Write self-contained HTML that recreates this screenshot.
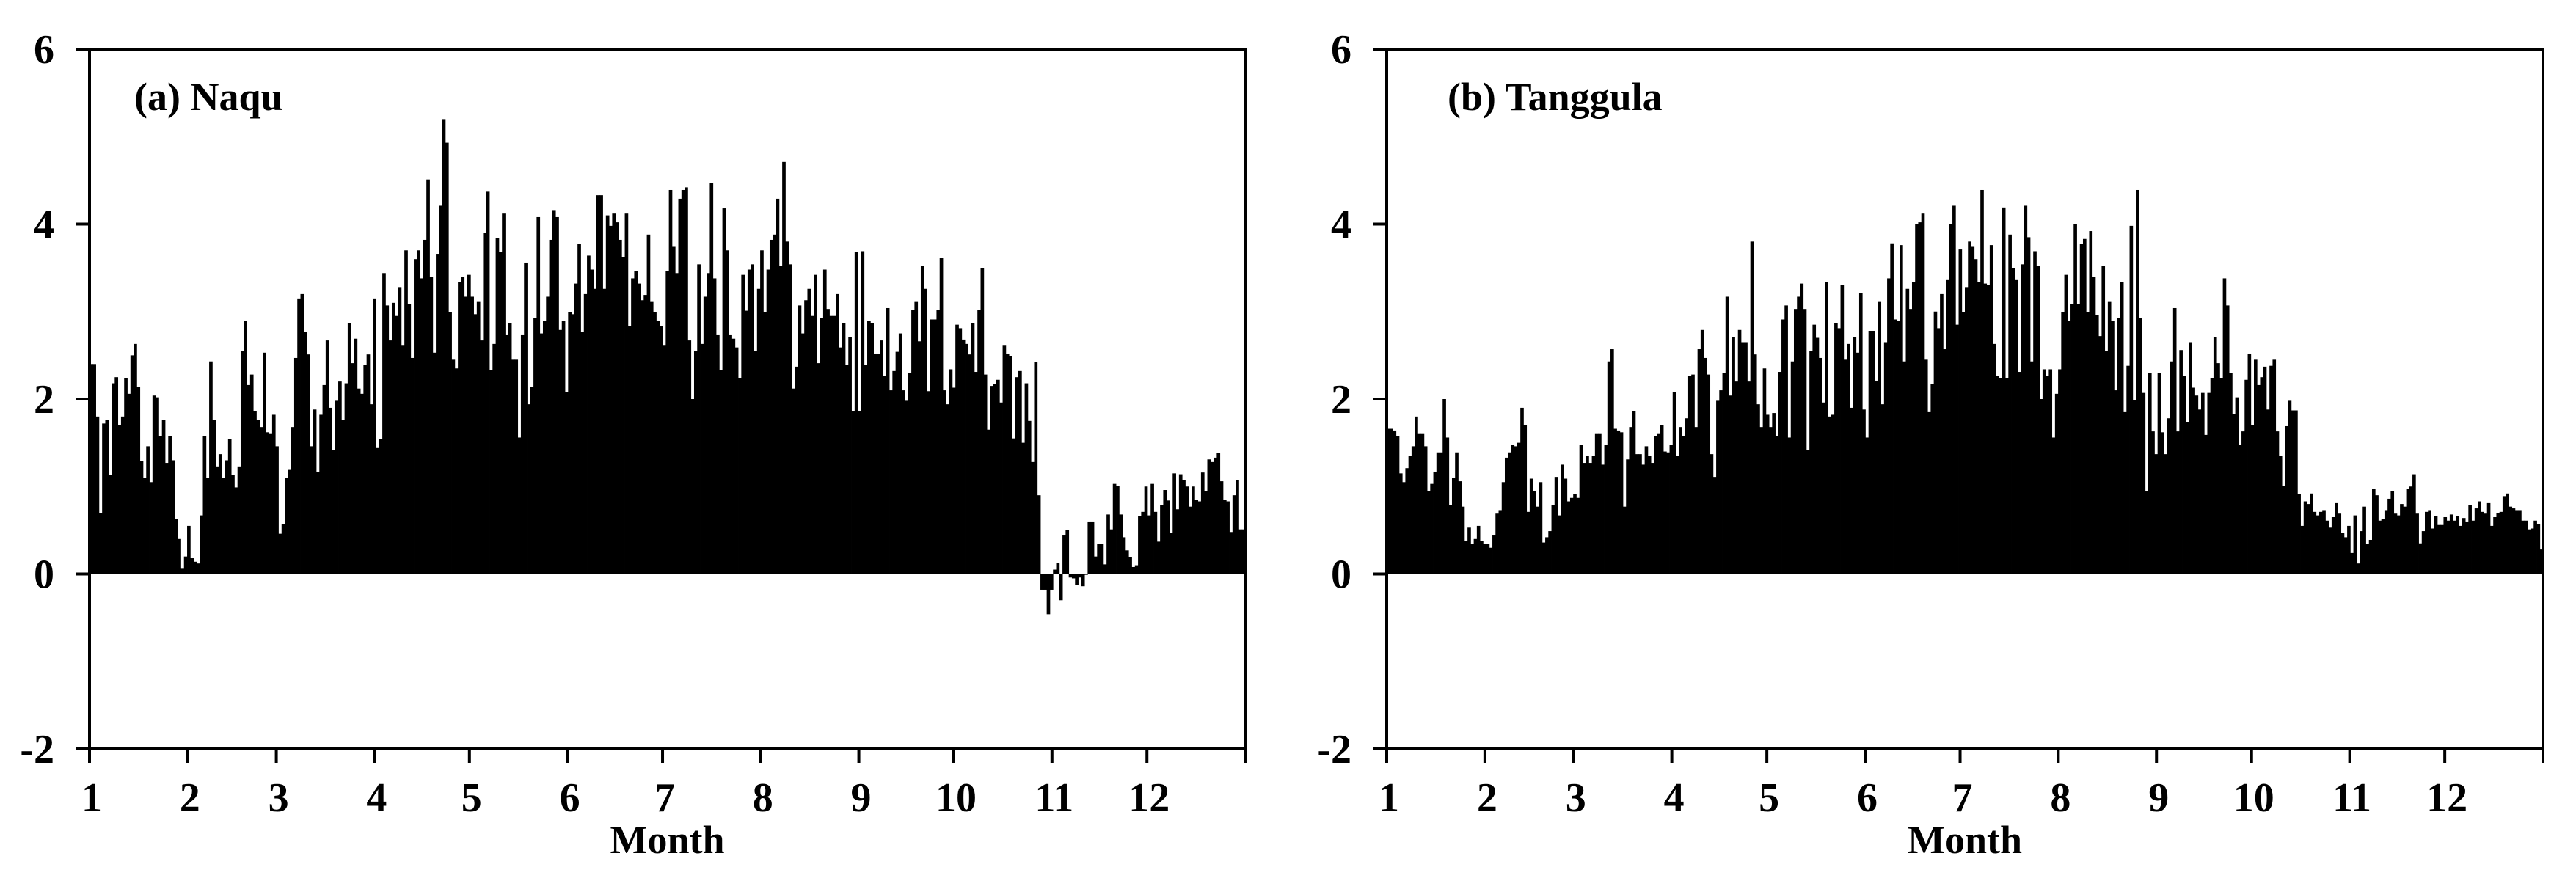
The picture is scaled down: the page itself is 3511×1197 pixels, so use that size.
<!DOCTYPE html>
<html><head><meta charset="utf-8"><style>
html,body{margin:0;padding:0;background:#fff;}
svg{display:block;font-family:"Liberation Serif",serif;font-weight:bold;}
</style></head><body>
<svg id="chart" width="3511" height="1197" viewBox="0 0 3511 1197" xmlns="http://www.w3.org/2000/svg"></svg>
<script>
const monthLabels = ["1","2","3","4","5","6","7","8","9","10","11","12"];
const monthDays = [31,28,31,30,31,30,31,31,30,31,30,31];
const yTicks = [-2,0,2,4,6];
const naquValues = [
2.4,2.4,1.8,0.7,1.72,1.76,1.13,2.18,2.25,1.7,1.8,2.24,2.06,2.5,2.63,2.14,1.29,1.1,1.46,1.05,2.04,2.02,1.58,1.76,1.27,1.58,1.3,0.63,0.4,0.06,0.2,0.55,0.18,0.14,0.12,0.67,1.58,1.1,2.43,1.76,1.23,1.37,1.1,1.3,1.54,1.13,0.99,1.23,2.55,2.89,2.16,2.28,1.86,1.76,1.68,2.53,1.62,1.6,1.82,1.46,0.46,0.57,1.1,1.19,1.68,2.47,3.15,3.2,2.77,2.51,1.46,1.88,1.17,1.82,2.16,2.67,1.9,1.42,1.98,2.2,1.76,2.18,2.87,2.41,2.69,2.12,2.06,2.39,2.51,1.94,3.15,1.44,1.54,3.44,3.07,2.67,3.1,2.95,3.28,2.61,3.7,3.09,2.47,3.6,3.7,3.38,3.82,4.51,3.4,2.53,3.66,4.21,5.2,4.93,2.99,2.45,2.35,3.34,3.4,3.17,
3.42,3.17,2.97,3.11,2.67,3.9,4.37,2.33,2.63,3.84,3.68,4.12,2.73,2.87,2.45,2.45,1.56,2.73,3.56,1.94,2.14,2.93,4.08,2.75,2.89,3.17,3.82,4.16,4.08,2.79,2.89,2.08,2.99,2.97,3.32,3.77,2.77,3.2,3.64,3.48,3.26,4.33,4.33,3.26,4.1,3.98,4.12,4.02,3.82,3.62,4.12,2.83,3.38,3.46,3.32,3.13,3.19,3.88,3.11,2.99,2.89,2.83,2.61,3.46,4.39,3.74,3.44,4.29,4.39,4.42,2.67,2.0,2.55,3.54,2.63,3.17,3.44,4.47,3.38,2.73,2.33,4.18,3.7,2.73,2.69,2.59,2.24,3.42,3.01,3.48,3.54,2.55,3.26,3.7,2.99,3.48,3.82,3.88,4.29,3.52,4.71,3.8,3.54,2.12,2.37,3.07,2.75,3.13,3.26,2.95,3.42,2.41,2.93,3.48,3.03,2.95,2.95,3.2,2.59,2.87,2.39,2.71,1.86,3.68,
1.86,3.69,2.39,2.89,2.87,2.52,2.52,2.67,2.26,3.04,2.1,2.32,2.54,2.75,2.1,1.98,2.3,3.02,3.11,2.66,3.52,3.26,2.09,2.91,2.91,3.02,3.61,2.1,1.94,2.34,2.13,2.85,2.81,2.68,2.63,2.51,2.87,2.31,3.02,3.5,2.28,1.65,2.15,2.17,2.22,1.96,2.61,2.52,2.49,1.55,2.25,2.32,1.5,2.18,1.75,1.28,2.42,0.9,-0.18,-0.18,-0.46,-0.18,0.05,0.13,-0.3,0.44,0.5,-0.04,-0.05,-0.13,-0.04,-0.14,-0.01,0.6,0.6,0.2,0.34,0.34,0.11,0.68,0.51,1.03,1.01,0.68,0.42,0.27,0.19,0.08,0.1,0.66,0.71,1.0,0.67,1.03,0.71,0.37,0.79,0.96,0.84,0.47,1.15,0.74,1.14,1.07,1.0,0.77,1.0,0.85,0.83,1.16,0.95,1.31,1.28,1.33,1.38,1.06,0.85,0.83,0.48,0.9,1.07,0.51,0.51
];
const tanggulaValues = [
1.66,1.66,1.64,1.58,1.15,1.05,1.21,1.35,1.46,1.8,1.6,1.6,1.46,0.95,1.03,1.17,1.39,1.39,2.0,1.56,0.79,1.1,1.39,1.06,0.77,0.38,0.53,0.34,0.4,0.55,0.38,0.34,0.34,0.3,0.44,0.69,0.73,1.05,1.33,1.39,1.48,1.46,1.5,1.9,1.7,0.71,1.09,0.95,0.77,1.05,0.36,0.42,0.49,0.79,1.11,0.67,1.25,1.09,0.83,0.87,0.91,0.87,1.48,1.27,1.35,1.27,1.35,1.6,1.6,1.25,1.48,2.43,2.57,1.66,1.64,1.62,0.77,1.31,1.68,1.86,1.37,1.37,1.25,1.46,1.35,1.27,1.58,1.6,1.7,1.4,1.39,1.48,2.08,1.35,1.68,1.58,1.78,2.26,2.28,1.68,2.57,2.79,2.47,2.28,1.37,1.11,1.98,2.1,2.3,3.17,2.04,2.71,2.2,2.79,2.65,2.65,2.2,3.8,2.51,1.94,1.68,2.35,1.82,1.68,
1.84,1.58,2.31,2.91,3.07,1.56,2.43,3.03,3.17,3.32,3.03,1.42,2.55,2.85,2.7,2.47,1.96,3.34,1.8,1.82,2.87,2.81,3.3,2.45,2.63,1.9,2.71,2.53,3.21,1.88,1.56,2.78,2.78,2.21,3.11,1.94,2.65,3.38,3.78,2.91,2.89,3.76,2.43,3.26,3.03,3.34,4.0,4.02,4.12,2.45,1.85,2.17,3.0,2.81,3.2,2.57,3.36,4.0,4.21,2.85,3.71,2.99,3.28,3.8,3.74,3.6,3.34,4.39,3.32,3.3,3.76,2.63,2.26,2.24,4.19,2.24,3.88,3.5,3.36,2.31,3.54,4.21,3.85,2.43,3.69,3.52,2.0,2.34,2.26,2.34,1.56,2.06,2.34,2.99,3.42,2.89,3.09,4.0,3.09,3.77,3.83,2.99,3.92,3.4,2.96,2.72,3.52,2.55,3.11,2.89,2.1,2.93,3.34,1.85,2.38,3.98,1.99,4.39,2.93,2.07,0.95,2.3,1.63,1.37,
2.3,1.62,1.37,1.78,2.43,3.04,1.63,2.56,2.26,1.74,2.65,2.13,2.04,1.88,2.07,1.59,2.07,2.24,2.71,2.41,2.24,3.38,3.07,2.3,1.83,2.02,1.48,1.63,2.22,2.52,1.7,2.45,2.16,2.25,2.37,1.88,2.38,2.45,1.63,1.35,1.01,1.69,1.98,1.87,1.87,0.91,0.55,0.83,0.8,0.92,0.71,0.67,0.71,0.73,0.61,0.53,0.65,0.81,0.69,0.47,0.42,0.55,0.24,0.67,0.12,0.49,0.77,0.34,0.39,0.97,0.9,0.61,0.63,0.73,0.86,0.95,0.69,0.67,0.8,0.77,0.97,1.0,1.14,0.69,0.35,0.49,0.71,0.73,0.52,0.66,0.56,0.56,0.65,0.61,0.68,0.61,0.66,0.55,0.64,0.6,0.79,0.61,0.75,0.83,0.71,0.69,0.81,0.55,0.65,0.7,0.71,0.89,0.92,0.77,0.75,0.73,0.73,0.61,0.61,0.51,0.52,0.61,0.57,0.28
];
const panelTitles = ["(a) Naqu","(b) Tanggula"];

const NS = "http://www.w3.org/2000/svg";
const svg = document.getElementById("chart");
const Y_TOP = 67, Y_BOT = 1021, Y_MIN = -2, Y_MAX = 6;
function yScale(v){ return Y_BOT - (v - Y_MIN) / (Y_MAX - Y_MIN) * (Y_BOT - Y_TOP); }
function mk(tag, attrs, parent){
  const e = document.createElementNS(NS, tag);
  for (const k in attrs) e.setAttribute(k, attrs[k]);
  (parent || svg).appendChild(e);
  return e;
}
function drawPanel(x0, x1, values, title, key){
  const g = mk("g", {});
  
  
  const W = x1 - x0;
  const totalDays = monthDays.reduce((a,b)=>a+b,0);
  function xScale(day){ return x0 + day / totalDays * W; }
  const bw = W / values.length;
  const y0 = yScale(0);
  const bars = mk("g", {fill:"#000"}, g);
  
  
  values.forEach((v, i) => {
    const xs = x0 + i * bw;
    const yv = yScale(v);
    const r = mk("rect", {x: xs.toFixed(2), y: Math.min(yv, y0).toFixed(2), width: (bw + 0.4).toFixed(2), height: Math.max(Math.abs(y0 - yv), 0.5).toFixed(2)}, bars);
    
    
  });
  const frame = mk("rect", {x: x0, y: Y_TOP, width: W, height: Y_BOT - Y_TOP, fill: "none", stroke: "#000", "stroke-width": 4}, g);
  
  
  yTicks.forEach(t => {
    const yy = yScale(t);
    const tk = mk("line", {x1: x0 - 18, x2: x0, y1: yy, y2: yy, stroke: "#000", "stroke-width": 4}, g);
    
    
    const lb = mk("text", {x: x0 - 48, y: yy + 19, "text-anchor": "end", "font-size": 56}, g);
    lb.textContent = String(t);
    
    
  });
  let cum = 0;
  monthLabels.forEach((m, i) => {
    const xx = xScale(cum);
    const tk = mk("line", {x1: xx, x2: xx, y1: Y_BOT, y2: Y_BOT + 19, stroke: "#000", "stroke-width": 4}, g);
    
    
    const lb = mk("text", {x: xx + 3, y: 1106, "text-anchor": "middle", "font-size": 56}, g);
    lb.textContent = m;
    
    
    cum += monthDays[i];
  });
  const endTick = mk("line", {x1: x1, x2: x1, y1: Y_BOT, y2: Y_BOT + 19, stroke: "#000", "stroke-width": 4}, g);
  
  
  const xt = mk("text", {x: (x0 + x1) / 2, y: 1163, "text-anchor": "middle", "font-size": 54}, g);
  xt.textContent = "Month";
  
  
  const tt = mk("text", {x: x0 + (key === 'naqu' ? 61 : 83), y: 150, "font-size": 54}, g);
  tt.textContent = title;
  
  
}
drawPanel(122, 1697, naquValues, panelTitles[0], 'naqu');
drawPanel(1890, 3466, tanggulaValues, panelTitles[1], 'tanggula');
</script>
</body></html>
